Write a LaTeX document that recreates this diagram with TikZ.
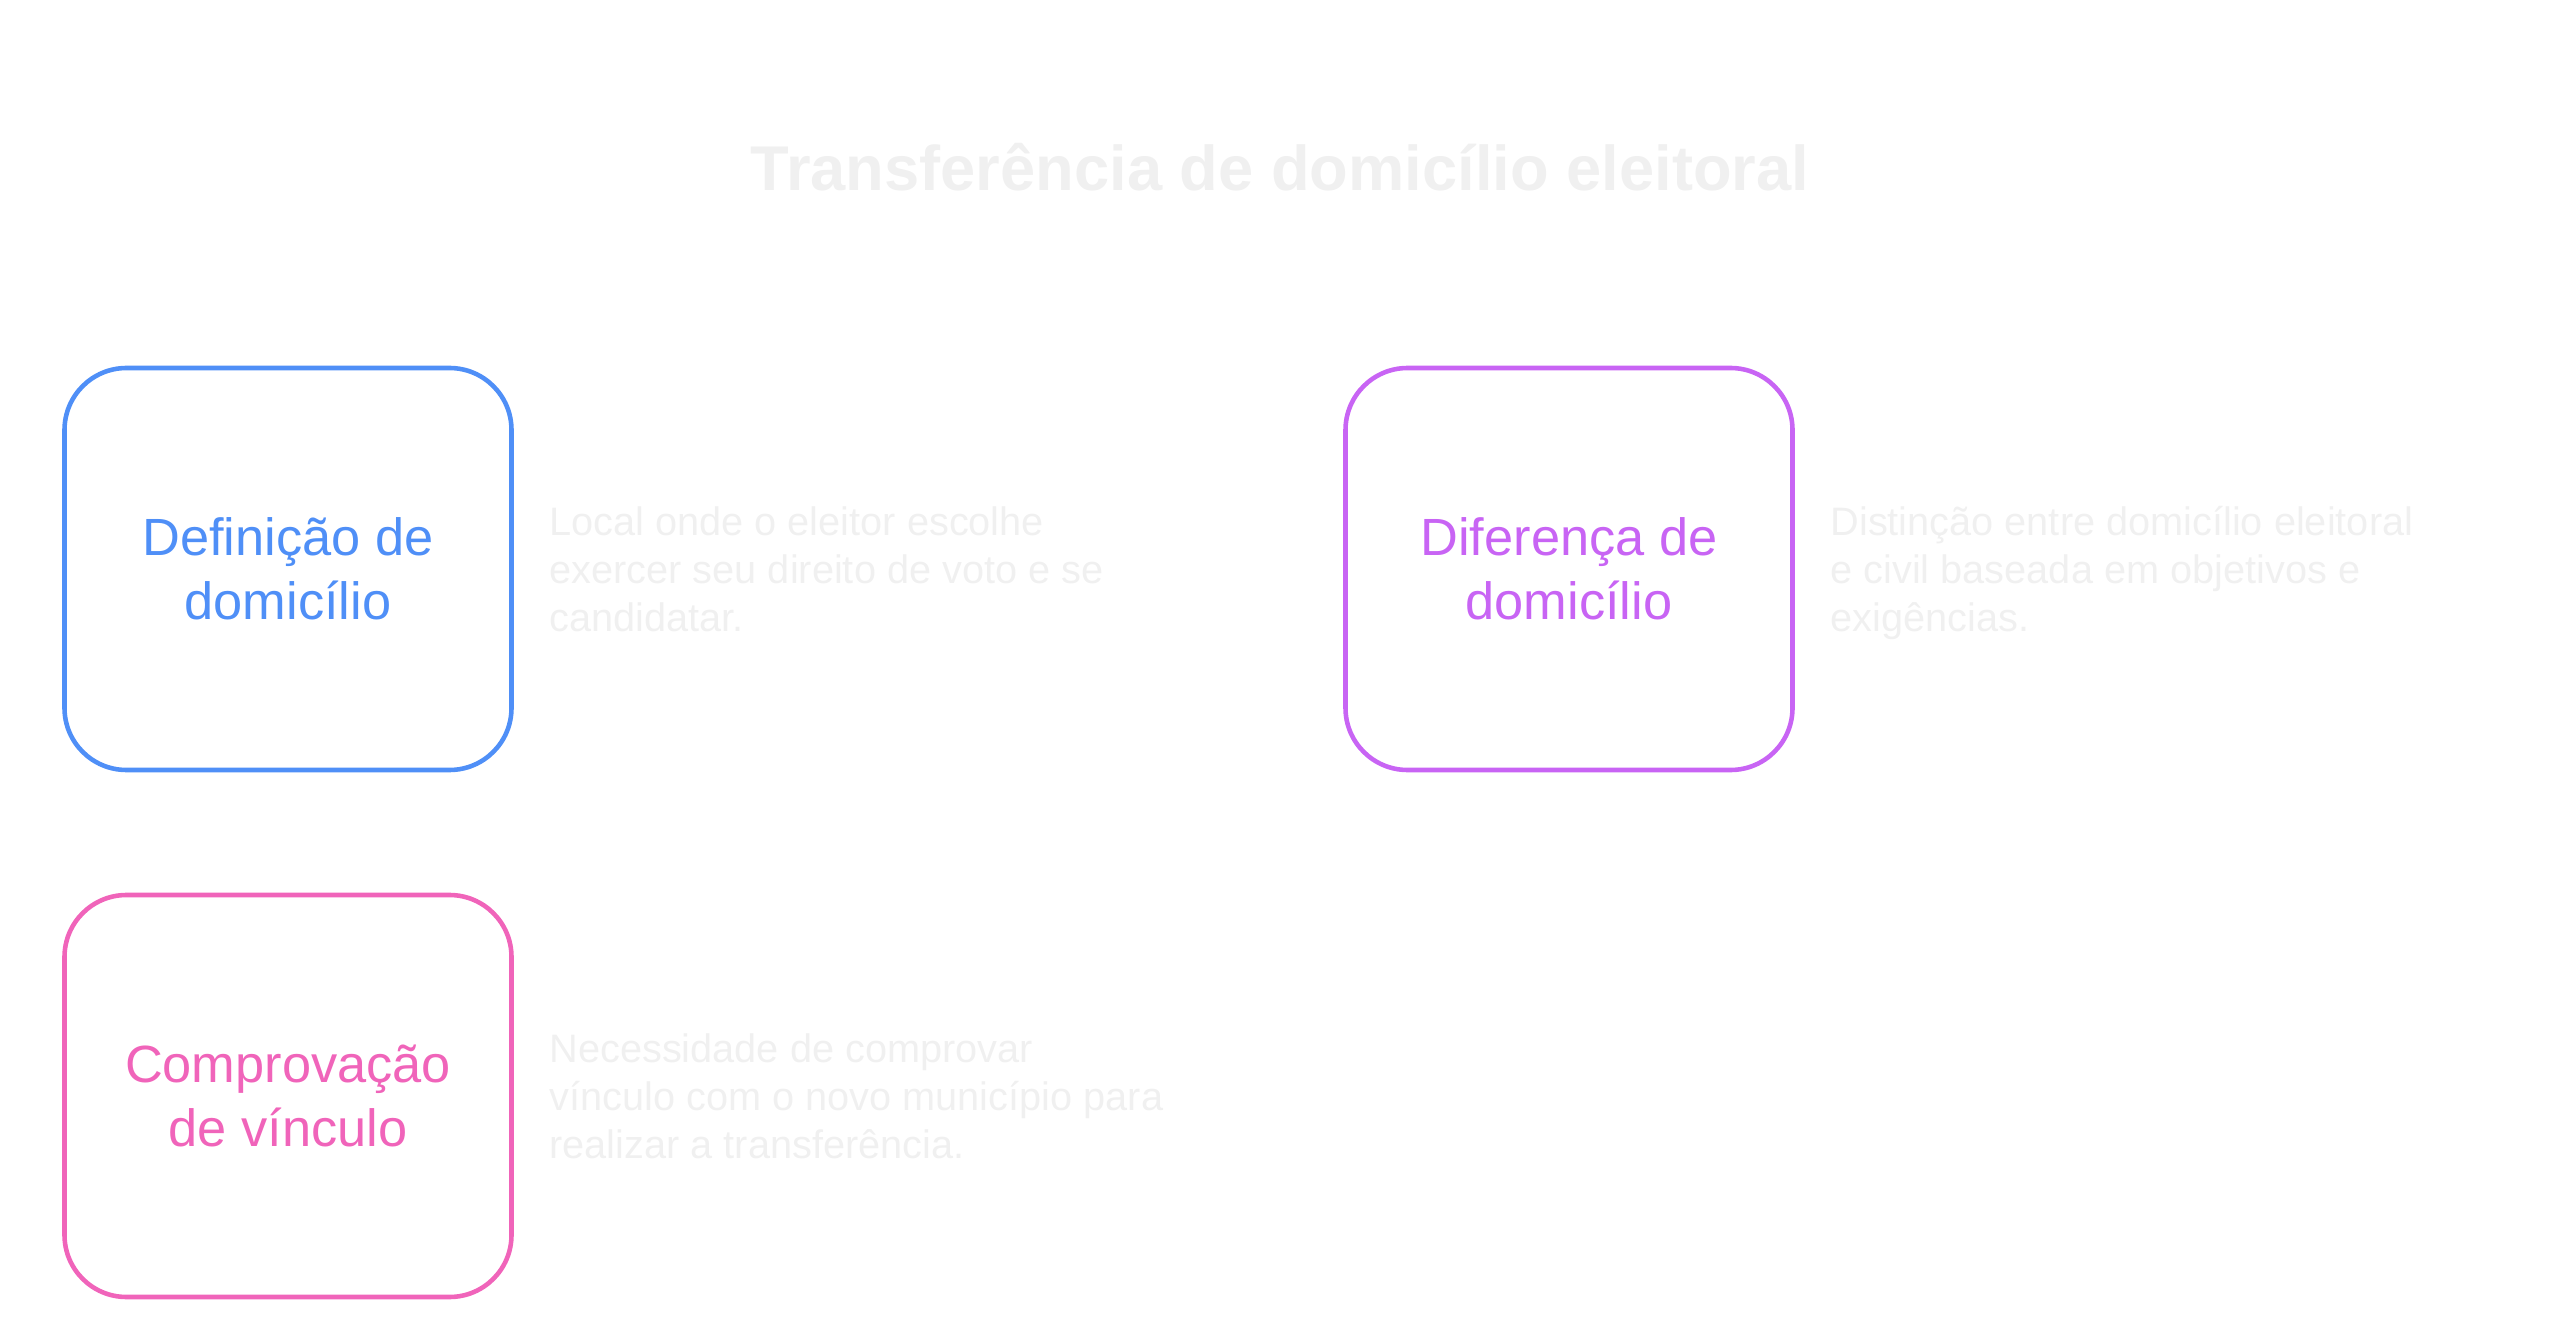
\documentclass[tikz,border=0pt]{standalone}
\usepackage{fontspec}
\setmainfont{Liberation Sans}
\usetikzlibrary{positioning}
\definecolor{boxBlue}{HTML}{4F8FF7}
\definecolor{boxPurple}{HTML}{C864F4}
\definecolor{boxPink}{HTML}{F064BA}
\definecolor{faintGray}{HTML}{F0F0F0}

\begin{document}
\begin{tikzpicture}
[boxDecorate/.style={draw=#1,text=#1,line width=1.3pt,rounded corners=0.62cm,
   minimum width=4.47cm,minimum height=4.02cm,align=center,inner sep=0pt,
   font=\fontsize{14.9}{18.2}\selectfont},
  descDecorate/.style={text=faintGray,align=left,inner sep=0pt,
   font=\fontsize{11.3}{13.7}\selectfont,yshift=-0.053cm,
   execute at end node=\rule[-3pt]{0pt}{3pt}},
  titleDecorate/.style={text=faintGray,inner sep=0pt,
   font=\fontsize{18}{22}\selectfont\bfseries}]
\useasboundingbox (0,0) rectangle (25.6,-13.37);
%% title
\node (title) at (12.8,-1.91) [titleDecorate,anchor=base] {Transferência de domicílio eleitoral};
%% boxes and descriptions
\foreach \nodename/\x/\y/\col/\label/\desc in {
  definicao/2.88/-5.69/boxBlue/{Definição de\\domicílio}/{Local onde o eleitor escolhe\\exercer seu direito de voto e se\\candidatar.},
  diferenca/15.69/-5.69/boxPurple/{Diferença de\\domicílio}/{Distinção entre domicílio eleitoral\\e civil baseada em objetivos e\\exigências.},
  comprovacao/2.88/-10.96/boxPink/{Comprovação\\de vínculo}/{Necessidade de comprovar\\vínculo com o novo município para\\realizar a transferência.}}
{
  \node (\nodename) at (\x,\y) [boxDecorate=\col] {\label};
  \node (\nodename-desc) [descDecorate,right=0.35cm of \nodename] {\desc};
}
\end{tikzpicture}
\end{document}
